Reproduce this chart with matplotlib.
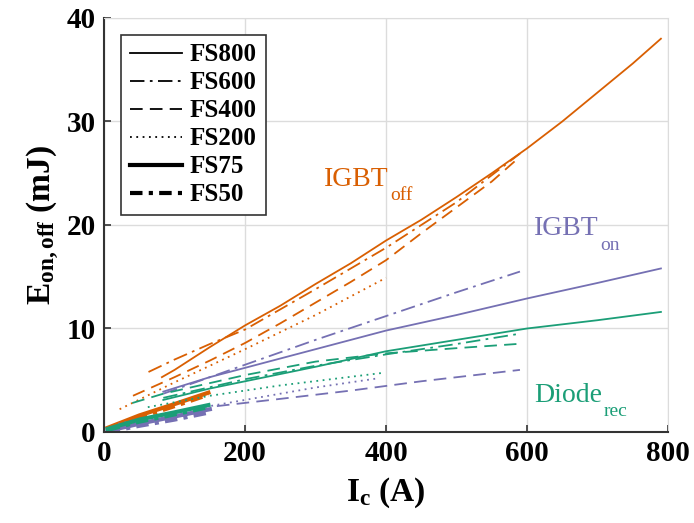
import matplotlib
matplotlib.use('Agg')
import matplotlib.pyplot as plt
from matplotlib.lines import Line2D

plt.rcParams.update({
    'font.family': 'Liberation Serif',
    'mathtext.fontset': 'custom',
    'mathtext.rm': 'Liberation Serif',
    'mathtext.bf': 'Liberation Serif:bold',
    'mathtext.it': 'Liberation Serif:italic',
})

ORANGE = '#d95f02'
PURPLE = '#7570b3'
GREEN = '#1b9e77'

# IGBT turn-off energy (mJ) vs current (A)
off_fs800_i = [82, 100, 150, 200, 250, 300, 350, 400, 450, 500, 550, 600, 650, 700, 750, 790]
off_fs800_e = [5.3, 6.0, 8.2, 10.3, 12.2, 14.3, 16.3, 18.5, 20.5, 22.7, 25.0, 27.4, 30.0, 32.8, 35.6, 38.0]
off_fs600_i = [63, 100, 150, 200, 300, 400, 500, 590]
off_fs600_e = [5.8, 7.0, 8.5, 9.9, 13.8, 17.8, 22.2, 26.9]
off_fs400_i = [41, 100, 150, 200, 250, 300, 350, 400, 450, 500, 550, 590]
off_fs400_e = [3.5, 5.3, 6.9, 8.6, 10.5, 12.5, 14.5, 16.6, 19.2, 21.7, 24.2, 26.6]
off_fs200_i = [22, 100, 200, 300, 400]
off_fs200_e = [2.2, 4.8, 8.0, 11.3, 14.9]
off_fs75_i = [5, 50, 100, 148]
off_fs75_e = [0.4, 1.6, 2.7, 3.8]
off_fs50_i = [5, 50, 100, 148]
off_fs50_e = [0.3, 1.4, 2.5, 3.6]

# IGBT turn-on energy
on_fs800_i = [84, 150, 200, 300, 400, 500, 600, 700, 790]
on_fs800_e = [3.9, 5.3, 6.2, 8.0, 9.8, 11.3, 12.9, 14.4, 15.8]
on_fs600_i = [84, 200, 300, 400, 500, 590]
on_fs600_e = [3.7, 6.5, 8.9, 11.2, 13.5, 15.5]
on_fs400_i = [160, 250, 350, 450, 590]
on_fs400_e = [2.5, 3.2, 4.0, 4.9, 6.0]
on_fs200_i = [20, 100, 200, 300, 390]
on_fs200_e = [0.8, 1.9, 3.1, 4.3, 5.2]
on_fs75_i = [5, 50, 100, 150]
on_fs75_e = [0.1, 0.8, 1.5, 2.2]
on_fs50_i = [5, 50, 100, 150]
on_fs50_e = [0.0, 0.6, 1.2, 1.9]

# Diode reverse-recovery energy
rec_fs800_i = [84, 150, 200, 300, 400, 500, 600, 700, 790]
rec_fs800_e = [3.1, 4.2, 4.9, 6.3, 7.8, 8.9, 10.0, 10.8, 11.6]
rec_fs600_i = [84, 200, 300, 400, 500, 590]
rec_fs600_e = [3.3, 5.1, 6.4, 7.5, 8.5, 9.5]
rec_fs400_i = [40, 84, 200, 300, 400, 500, 585]
rec_fs400_e = [2.8, 3.7, 5.5, 6.8, 7.6, 8.1, 8.5]
rec_fs200_i = [62, 150, 250, 394]
rec_fs200_e = [2.4, 3.5, 4.5, 5.7]
rec_fs75_i = [5, 50, 100, 148]
rec_fs75_e = [0.3, 1.2, 1.9, 2.6]
rec_fs50_i = [5, 50, 100, 148]
rec_fs50_e = [0.2, 1.0, 1.7, 2.4]

modules = ['FS800', 'FS600', 'FS400', 'FS200', 'FS75', 'FS50']
styles = {
    'FS800': dict(linestyle='-', linewidth=1.3),
    'FS600': dict(linestyle=(0, (8, 3, 1.5, 3)), linewidth=1.3),
    'FS400': dict(linestyle=(0, (7, 4)), linewidth=1.3),
    'FS200': dict(linestyle=(0, (1, 2.5)), linewidth=1.3),
    'FS75': dict(linestyle='-', linewidth=3.0),
    'FS50': dict(linestyle=(0, (3, 1.5, 1, 1.5)), linewidth=3.0),
}

groups = [
    (ORANGE, [(off_fs800_i, off_fs800_e), (off_fs600_i, off_fs600_e), (off_fs400_i, off_fs400_e),
              (off_fs200_i, off_fs200_e), (off_fs75_i, off_fs75_e), (off_fs50_i, off_fs50_e)]),
    (PURPLE, [(on_fs800_i, on_fs800_e), (on_fs600_i, on_fs600_e), (on_fs400_i, on_fs400_e),
              (on_fs200_i, on_fs200_e), (on_fs75_i, on_fs75_e), (on_fs50_i, on_fs50_e)]),
    (GREEN, [(rec_fs800_i, rec_fs800_e), (rec_fs600_i, rec_fs600_e), (rec_fs400_i, rec_fs400_e),
             (rec_fs200_i, rec_fs200_e), (rec_fs75_i, rec_fs75_e), (rec_fs50_i, rec_fs50_e)]),
]

fig = plt.figure(figsize=(6.94, 5.23), dpi=100)
ax = fig.add_axes([0.150, 0.174, 0.8125, 0.7916])

for color, curves in groups:
    for name, (i, e) in zip(modules, curves):
        ax.plot(i, e, color=color, **styles[name])

ax.set_xlim(0, 800)
ax.set_ylim(0, 40)
ax.set_xticks([0, 200, 400, 600, 800])
ax.set_yticks([0, 10, 20, 30, 40])
ax.grid(True, color='#dcdcdc', linewidth=1.0)
ax.set_axisbelow(True)
ax.tick_params(direction='in', length=5, width=1.2, labelsize=21, pad=6, color='#333333')
for lbl in ax.get_xticklabels() + ax.get_yticklabels():
    lbl.set_fontweight('bold')
for s in ['left', 'bottom']:
    ax.spines[s].set_color('#333333')
    ax.spines[s].set_linewidth(1.5)
for s in ['top', 'right']:
    ax.spines[s].set_color('#dcdcdc')

ax.set_xlabel(r'$\mathbf{I_c}$ $\mathbf{(A)}$', fontsize=24, labelpad=6)
ax.set_ylabel(r'$\mathbf{E_{on,off}}$ $\mathbf{(mJ)}$', fontsize=24, labelpad=4)

# curve group labels with low-set subscripts
def group_label(x, y, main, sub, color):
    t = ax.text(x, y, main, color=color, fontsize=20, va='baseline')
    ax.annotate(sub, xy=(1, 0), xycoords=t, xytext=(1, -6), textcoords='offset points',
                color=color, fontsize=14, va='baseline', ha='left')

group_label(312, 23.8, 'IGBT', 'off', ORANGE)
group_label(610, 19.0, 'IGBT', 'on', PURPLE)
group_label(610, 2.9, 'Diode', 'rec', GREEN)

handles = [Line2D([], [], color='black', **styles[m]) for m in modules]
leg = ax.legend(handles, modules, loc='upper left', bbox_to_anchor=(0.030, 0.960),
                prop={'family': 'Liberation Serif', 'weight': 'bold', 'size': 18},
                frameon=True, fancybox=False, edgecolor='#333333', framealpha=1,
                handlelength=2.1, handletextpad=0.3, labelspacing=0.2, borderpad=0.35,
                borderaxespad=0)
leg.get_frame().set_linewidth(1.2)

fig.savefig('out.png', dpi=100)
